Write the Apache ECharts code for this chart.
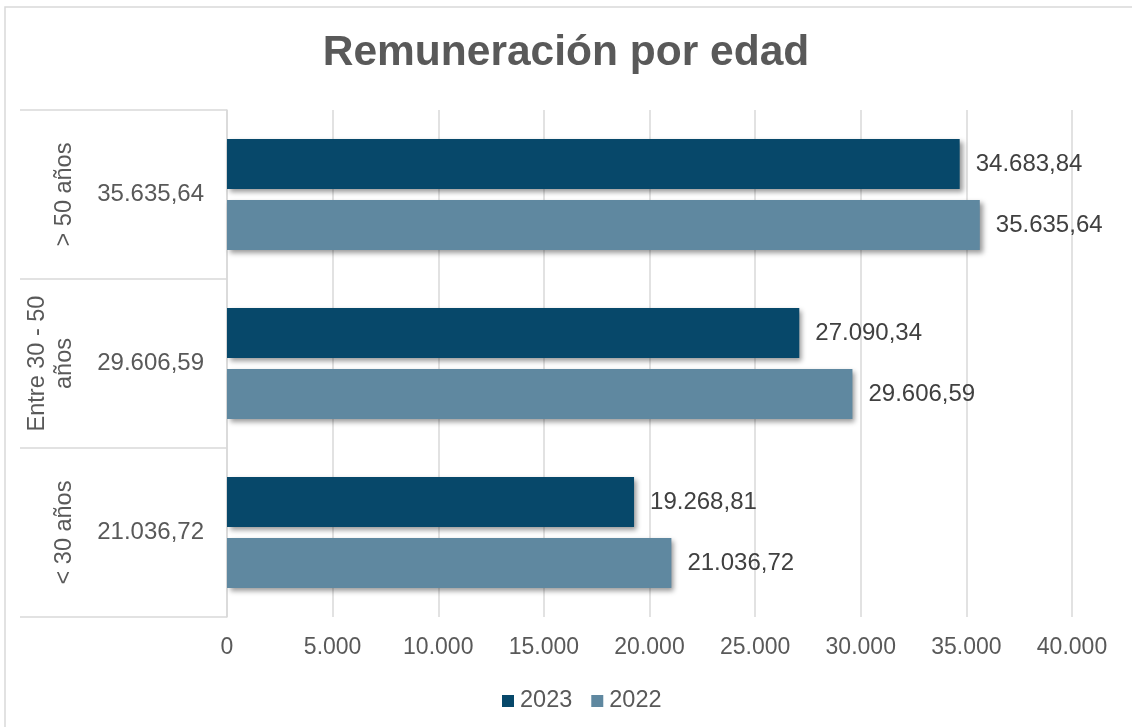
<!DOCTYPE html>
<html>
<head>
<meta charset="utf-8">
<script src="https://cdn.jsdelivr.net/npm/echarts@6/dist/echarts.min.js"></script>
<style>
  html, body { margin: 0; padding: 0; background: #ffffff; }
  #chart { width: 1132px; height: 727px; }
</style>
</head>
<body>
<div id="chart"></div>
<script>
const titleText = 'Remuneración por edad';
const categories = ['< 30 años', 'Entre 30 - 50\naños', '> 50 años'];
const seriesNames = ['2023', '2022'];
const values2023 = [19268.81, 27090.34, 34683.84];
const values2022 = [21036.72, 29606.59, 35635.64];
const innerLabels = ['21.036,72', '29.606,59', '35.635,64'];
const xMin = 0, xMax = 40000, xStep = 5000;
const colors = ['#07486a', '#5f88a0'];

function fmt(v, dec) {
  const s = v.toFixed(dec);
  const parts = s.split('.');
  const intPart = parts[0].replace(/\B(?=(\d{3})+(?!\d))/g, '.');
  return dec > 0 ? intPart + ',' + parts[1] : intPart;
}

const font = '"Liberation Sans", Arial, sans-serif';
const chart = echarts.init(document.getElementById('chart'), null, { renderer: 'canvas' });

const barStyle = (c) => ({
  color: c,
  shadowBlur: 5,
  shadowColor: 'rgba(0,0,0,0.4)',
  shadowOffsetX: 3,
  shadowOffsetY: 3
});

chart.setOption({
  backgroundColor: '#ffffff',
  animation: false,
  textStyle: { fontFamily: font },
  title: {
    text: titleText,
    left: 'center',
    top: 27,
    textStyle: { fontFamily: font, fontSize: 42.5, fontWeight: 'bold', color: '#595959' }
  },
  graphic: [{
    type: 'rect',
    shape: { x: 5, y: 7, width: 1140, height: 740 },
    style: { fill: 'none', stroke: '#d9d9d9', lineWidth: 1.5 },
    silent: true
  }],
  legend: {
    data: seriesNames,
    top: 684,
    left: 497,
    itemWidth: 12,
    itemHeight: 12,
    itemGap: 19,
    icon: 'rect',
    textStyle: { fontFamily: font, fontSize: 23.5, color: '#595959', padding: [0, 0, 0, 1] }
  },
  grid: { left: 227, right: 60, top: 110, bottom: 110, containLabel: false },
  xAxis: {
    type: 'value',
    min: xMin, max: xMax, interval: xStep,
    axisLine: { show: false },
    axisTick: { show: false },
    splitLine: { lineStyle: { color: '#d9d9d9', width: 1.5 } },
    axisLabel: {
      fontFamily: font, fontSize: 23, color: '#595959', margin: 19,
      formatter: (v) => fmt(v, 0)
    }
  },
  yAxis: [{
    type: 'category',
    data: categories,
    position: 'left',
    axisLine: { show: true, lineStyle: { color: '#d9d9d9', width: 1.5 } },
    axisTick: { show: true, length: 207, interval: 0, lineStyle: { color: '#d9d9d9', width: 1.5 } },
    axisLabel: {
      interval: 0,
      fontFamily: font, fontSize: 24, color: '#595959', margin: 23,
      formatter: (v, i) => innerLabels[i]
    }
  }, {
    type: 'category',
    data: categories,
    position: 'left',
    axisLine: { show: false },
    axisTick: { show: false },
    axisLabel: {
      interval: 0,
      hideOverlap: false,
      fontFamily: font, fontSize: 23.5, color: '#595959', margin: 149,
      rotate: 90, lineHeight: 27
    }
  }],
  series: [{
    name: seriesNames[0],
    type: 'bar',
    yAxisIndex: 0,
    data: values2023,
    barWidth: 50,
    barGap: '22%',
    itemStyle: barStyle(colors[0]),
    label: {
      show: true, position: 'right', distance: 16,
      fontFamily: font, fontSize: 24, color: '#404040',
      formatter: (p) => fmt(p.value, 2)
    }
  }, {
    name: seriesNames[1],
    type: 'bar',
    yAxisIndex: 0,
    data: values2022,
    barWidth: 50,
    barGap: '22%',
    itemStyle: barStyle(colors[1]),
    label: {
      show: true, position: 'right', distance: 16,
      fontFamily: font, fontSize: 24, color: '#404040',
      formatter: (p) => fmt(p.value, 2)
    }
  }]
});
</script>
</body>
</html>
